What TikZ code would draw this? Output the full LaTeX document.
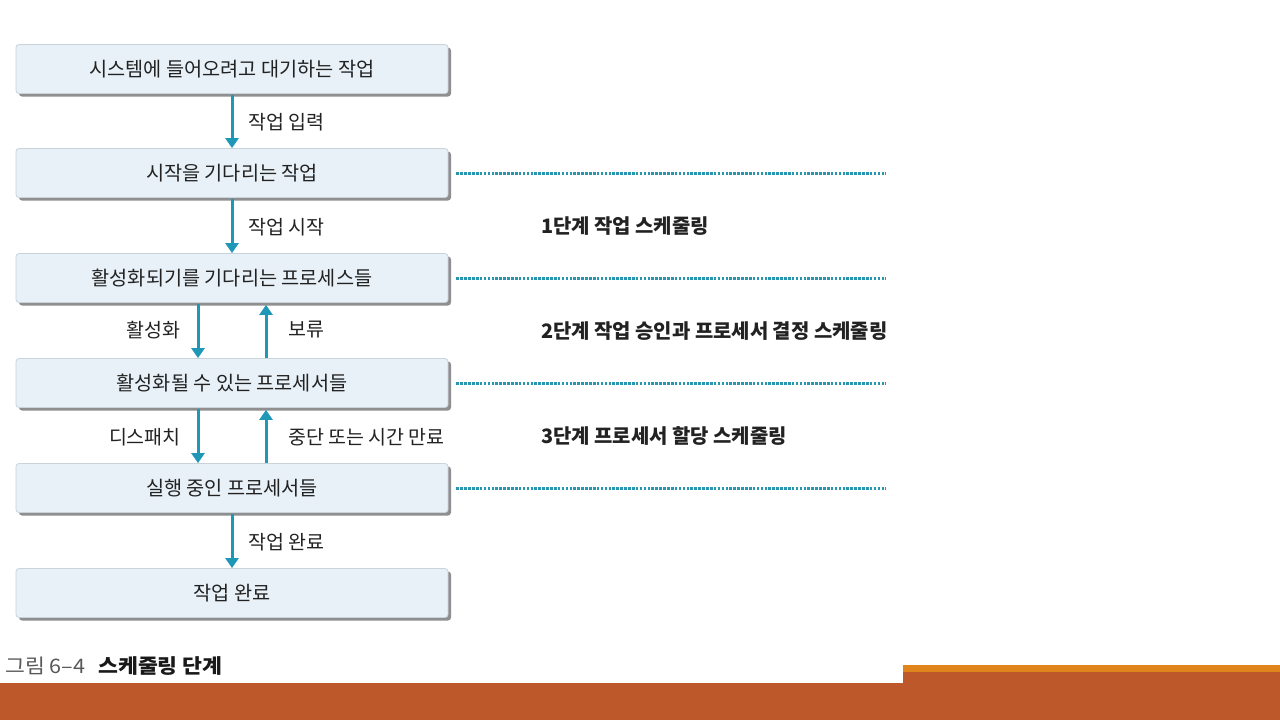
\documentclass[tikz,border=0pt]{standalone}
\usepackage{fontspec}
\setmainfont{Noto Sans CJK KR}
\usetikzlibrary{arrows.meta,shadows}
\definecolor{boxfill}{HTML}{E8F1F8}
\definecolor{boxline}{HTML}{C9D3DC}
\definecolor{teal}{HTML}{1F98B8}
\definecolor{dotc}{HTML}{2996B0}
\definecolor{barbrown}{HTML}{BD582B}
\definecolor{barorange}{HTML}{E0851B}
\definecolor{txt}{HTML}{222222}
\begin{document}
\begin{tikzpicture}[x=1pt,y=-1pt,
  stagebox/.style={draw=boxline,line width=0.8pt,fill=boxfill,rounded corners=3pt,
    minimum width=432pt,minimum height=49pt,inner sep=0pt,font=\fontsize{19.7}{22}\selectfont,text=txt,
    drop shadow={shadow xshift=3pt,shadow yshift=-3pt,fill=black!55,opacity=0.8}},
  flow/.style={draw=teal,line width=3pt,-{Triangle[width=13pt,length=10pt]}},
  lbl/.style={font=\fontsize{19.5}{21}\selectfont,text=txt,inner sep=0pt},
  phase/.style={font=\fontsize{19.9}{21}\selectfont\bfseries,text=txt,inner sep=0pt,anchor=west},
  dotline/.style={draw=dotc,line width=3pt,dash pattern=on 2.6pt off 1.3pt}]
\useasboundingbox (0,0) rectangle (1280,720);
\fill[white] (0,0) rectangle (1280,720);
% bottom bars
\fill[barbrown] (0,683) rectangle (1280,720);
\fill[barbrown] (903,672) rectangle (1280,683);
\fill[barorange] (903,665) rectangle (1280,672);
% boxes
\node[stagebox] (b1) at (232,69) {시스템에 들어오려고 대기하는 작업};
\node[stagebox] (b2) at (232,173) {시작을 기다리는 작업};
\node[stagebox] (b3) at (232,278) {활성화되기를 기다리는 프로세스들};
\node[stagebox] (b4) at (232,383) {활성화될 수 있는 프로세서들};
\node[stagebox] (b5) at (232,488) {실행 중인 프로세서들};
\node[stagebox] (b6) at (232,593) {작업 완료};
% arrows
\draw[flow] ([yshift=-1pt]b1.south) -- (b2.north);
\draw[flow] ([yshift=-1pt]b2.south) -- (b3.north);
\draw[flow] ([xshift=-34pt,yshift=-1pt]b3.south) -- ([xshift=-34pt]b4.north);
\draw[flow] ([xshift=34pt]b4.north) -- ([xshift=34pt,yshift=-2pt]b3.south);
\draw[flow] ([xshift=-34pt,yshift=-1pt]b4.south) -- ([xshift=-34pt]b5.north);
\draw[flow] ([xshift=34pt]b5.north) -- ([xshift=34pt,yshift=-2pt]b4.south);
\draw[flow] ([yshift=-1pt]b5.south) -- (b6.north);
% arrow labels
\node[lbl,anchor=west] (l1) at (248,122) {작업 입력};
\node[lbl,anchor=west] (l2) at (248,227) {작업 시작};
\node[lbl,anchor=east] (l3) at (181,330) {활성화};
\node[lbl,anchor=west] (l4) at (288,330) {보류};
\node[lbl,anchor=east] (l5) at (181,437) {디스패치};
\node[lbl,anchor=west] (l6) at (288,437) {중단 또는 시간 만료};
\node[lbl,anchor=west] (l7) at (248,542) {작업 완료};
% dotted separators
\coordinate (e2) at (886,173);
\coordinate (e3) at (886,278);
\coordinate (e4) at (886,383);
\coordinate (e5) at (886,488);
\draw[dotline] ([xshift=8pt]b2.east) -- (e2);
\draw[dotline] ([xshift=8pt]b3.east) -- (e3);
\draw[dotline] ([xshift=8pt]b4.east) -- (e4);
\draw[dotline] ([xshift=8pt]b5.east) -- (e5);
% phase labels
\node[phase] (p1) at (541,226) {1단계 작업 스케줄링};
\node[phase] (p2) at (541,331) {2단계 작업 승인과 프로세서 결정 스케줄링};
\node[phase] (p3) at (541,436) {3단계 프로세서 할당 스케줄링};
% caption
\node[anchor=west,inner sep=0pt] (cap) at (5,666) {\scalebox{1.08}[1]{\fontsize{20}{22}\selectfont\color{black!65}그림 6–4\hspace{0.6em}\color{black!90}\bfseries 스케줄링 단계}};
\end{tikzpicture}
\end{document}
